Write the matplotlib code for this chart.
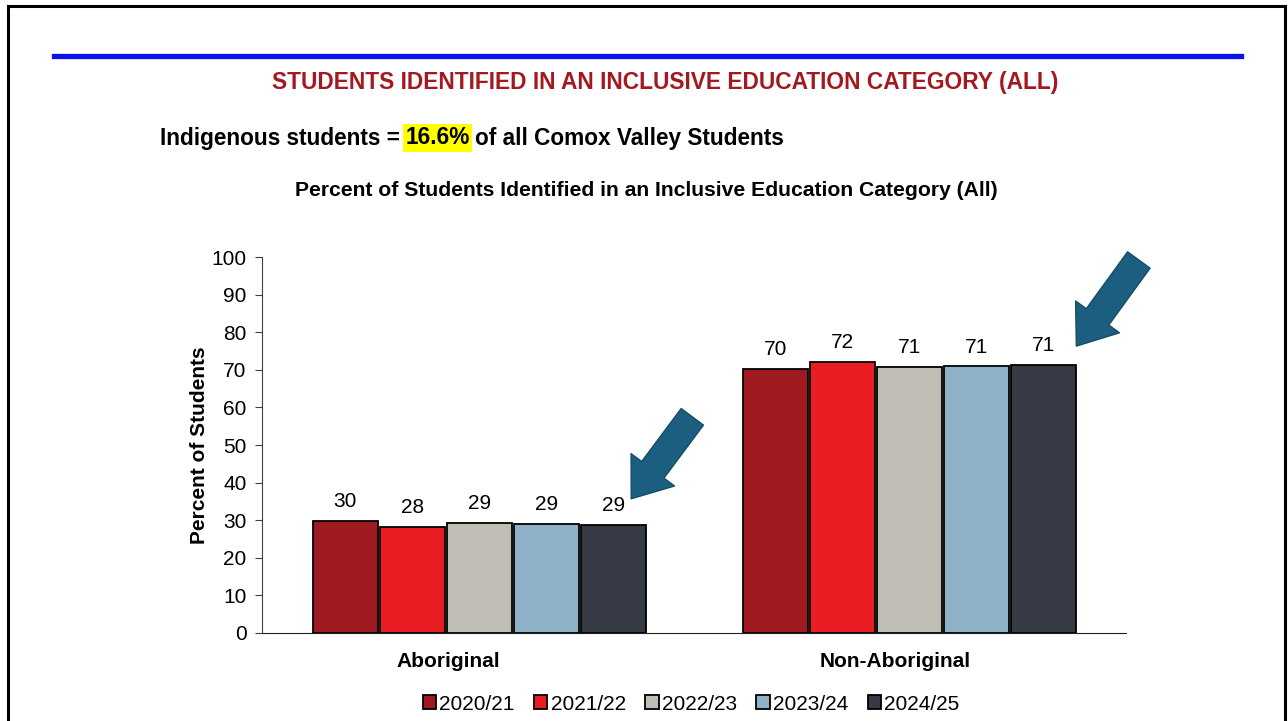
import matplotlib.pyplot as plt
import numpy as np
from matplotlib.lines import Line2D

plt.rcParams["font.family"] = ["Liberation Sans", "DejaVu Sans"]

groups = ["Aboriginal", "Non-Aboriginal"]
years = ["2020/21", "2021/22", "2022/23", "2023/24", "2024/25"]
aboriginal = [29.8, 28.2, 29.3, 29.0, 28.7]
non_aboriginal = [70.2, 72.1, 70.7, 70.9, 71.3]
colors = ["#9E1A1E", "#EA1C24", "#C0BDB4", "#8FB1C7", "#363A45"]

W, H = 1288, 721
fig = plt.figure(figsize=(W / 100, H / 100), dpi=100)
ax = fig.add_axes([262 / W, 1 - 633 / H, (1126 - 262) / W, (633 - 257) / H])

# outer slide frame and blue rule
for xs, ys in [([8 / W, 1285 / W], [1 - 6 / H, 1 - 6 / H]),
               ([8 / W, 8 / W], [0, 1 - 6 / H]),
               ([1285 / W, 1285 / W], [0, 1 - 6 / H])]:
    fig.add_artist(Line2D(xs, ys, color="black", lw=2.2, transform=fig.transFigure))
fig.add_artist(Line2D([54 / W, 1241 / W], [1 - 56 / H, 1 - 56 / H], color="#0A10F0", lw=3.8,
                      transform=fig.transFigure))

fig.text(665 / W, 1 - 82 / H, "STUDENTS IDENTIFIED IN AN INCLUSIVE EDUCATION CATEGORY (ALL)",
         ha="center", va="center", fontsize=16.4, fontweight="bold", color="#A3191F")

t1 = ax.annotate("Indigenous students =", xy=(160 / W, 1 - 138 / H), xycoords="figure fraction",
                 ha="left", va="center", fontsize=16.3, fontweight="bold", annotation_clip=False)
t2 = ax.annotate("16.6%", xy=(1, 0), xycoords=t1, xytext=(4, 0), textcoords="offset points",
                 ha="left", va="bottom", fontsize=16.3, fontweight="bold", annotation_clip=False,
                 bbox=dict(facecolor="#FFFF00", edgecolor="none", pad=1.5))
ax.annotate("of all Comox Valley Students", xy=(1, 0), xycoords=t2, xytext=(4, 0),
            textcoords="offset points", ha="left", va="bottom", fontsize=16.3, fontweight="bold",
            annotation_clip=False)

fig.text(646 / W, 1 - 191 / H, "Percent of Students Identified in an Inclusive Education Category (All)",
         ha="center", va="center", fontsize=15.2, fontweight="bold")

x = np.arange(len(groups))
step = 0.156
width = 0.151
series = list(zip(aboriginal, non_aboriginal))
for i, (year, vals, color) in enumerate(zip(years, series, colors)):
    bars = ax.bar(x + (i - 2) * step, vals, width, color=color, edgecolor="black", linewidth=1.3,
                  label=year)
    for b, v in zip(bars, vals):
        ax.annotate(f"{v:.0f}", xy=(b.get_x() + b.get_width() / 2, v), xytext=(0, 7),
                    textcoords="offset points", ha="center", va="bottom", fontsize=15)

# callout arrows pointing at the latest year
tip_dx = [-0.035, 0.0]
tip_dy = [7, 5]
tail = [(44, 59), (45, 62)]
last = series[-1]
for g in range(len(groups)):
    tip = (x[g] + 2 * step + width / 2 + tip_dx[g], last[g] + tip_dy[g])
    ax.annotate("", xy=tip, xytext=tail[g], textcoords="offset points", annotation_clip=False,
                arrowprops=dict(arrowstyle="simple,head_length=26,head_width=39,tail_width=20",
                                mutation_scale=1, facecolor="#1B5E80", edgecolor="#174C69",
                                lw=1, shrinkA=0, shrinkB=0))

ax.set_xlim(-0.506, 1.503)
ax.set_ylim(0, 100)
ax.set_yticks(range(0, 101, 10))
ax.set_xticks(x + np.array([-0.072, -0.033]), groups, fontsize=15, fontweight="bold")
ax.tick_params(axis="x", length=0, pad=14)
ax.tick_params(axis="y", length=5, color="#404040", labelsize=15, pad=6)
ax.spines[["top", "right"]].set_visible(False)
ax.spines["left"].set_color("#404040")
ax.spines["bottom"].set_color("#202020")
ax.set_ylabel("Percent of Students", fontsize=15, fontweight="bold", labelpad=2)

fig.legend(loc="center", bbox_to_anchor=(691 / W, 1 - 704 / H), ncol=5, frameon=False,
           fontsize=15, handlelength=0.65, handleheight=0.65, handletextpad=0.15,
           columnspacing=0.93)

fig.savefig("out.png", dpi=100)
